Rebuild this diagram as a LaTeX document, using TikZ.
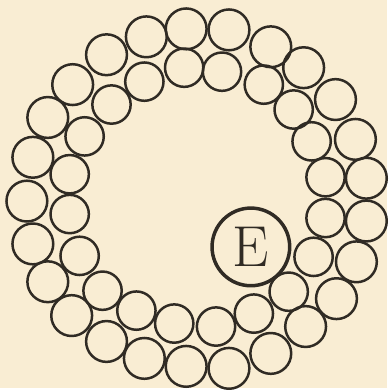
\documentclass[tikz,border=0pt]{standalone}
\usepackage{xcolor}
\usepackage{tikz}
\definecolor{paperBg}{HTML}{F9EDD3}
\definecolor{inkBrown}{HTML}{302B24}

\begin{document}
\begin{tikzpicture}[x=1pt, y=-1pt,
    bead/.style={circle, draw=inkBrown, line width=2.5pt, inner sep=0pt, minimum size=41pt},
    smallbead/.style={bead, minimum size=38.5pt},
    marked/.style={circle, draw=inkBrown, line width=3.5pt, inner sep=0pt, minimum size=78pt,
                   font=\fontsize{58}{58}\selectfont, text=inkBrown},
]
\fill[paperBg] (0,0) rectangle (389,390);
% outer ring
\foreach \px/\py [count=\k] in {187/29, 230/30, 272/47, 305/68, 337/100, 357/140, 368/179,
    368/222, 358/263, 338/300, 307/328, 272/355, 230/370, 187/368, 145/360, 107/343,
    72/317, 48/283, 33/245, 27/202, 33/158, 48/118, 73/85, 107/55, 147/37}
  \node[bead] (o\k) at (\px,\py) {};
% inner ring
\foreach \px/\py [count=\k] in {185/68, 223/72, 265/85, 295/110, 313/142, 327/178, 327/219,
    315/258, 290/293, 255/315, 217/328, 175/325, 137/312, 103/292, 80/257, 70/215,
    70/175, 85/137, 112/105, 145/82}
  \node[smallbead] (i\k) at (\px,\py) {};
\node[marked] (E) at (252,248) {E};
\end{tikzpicture}
\end{document}
